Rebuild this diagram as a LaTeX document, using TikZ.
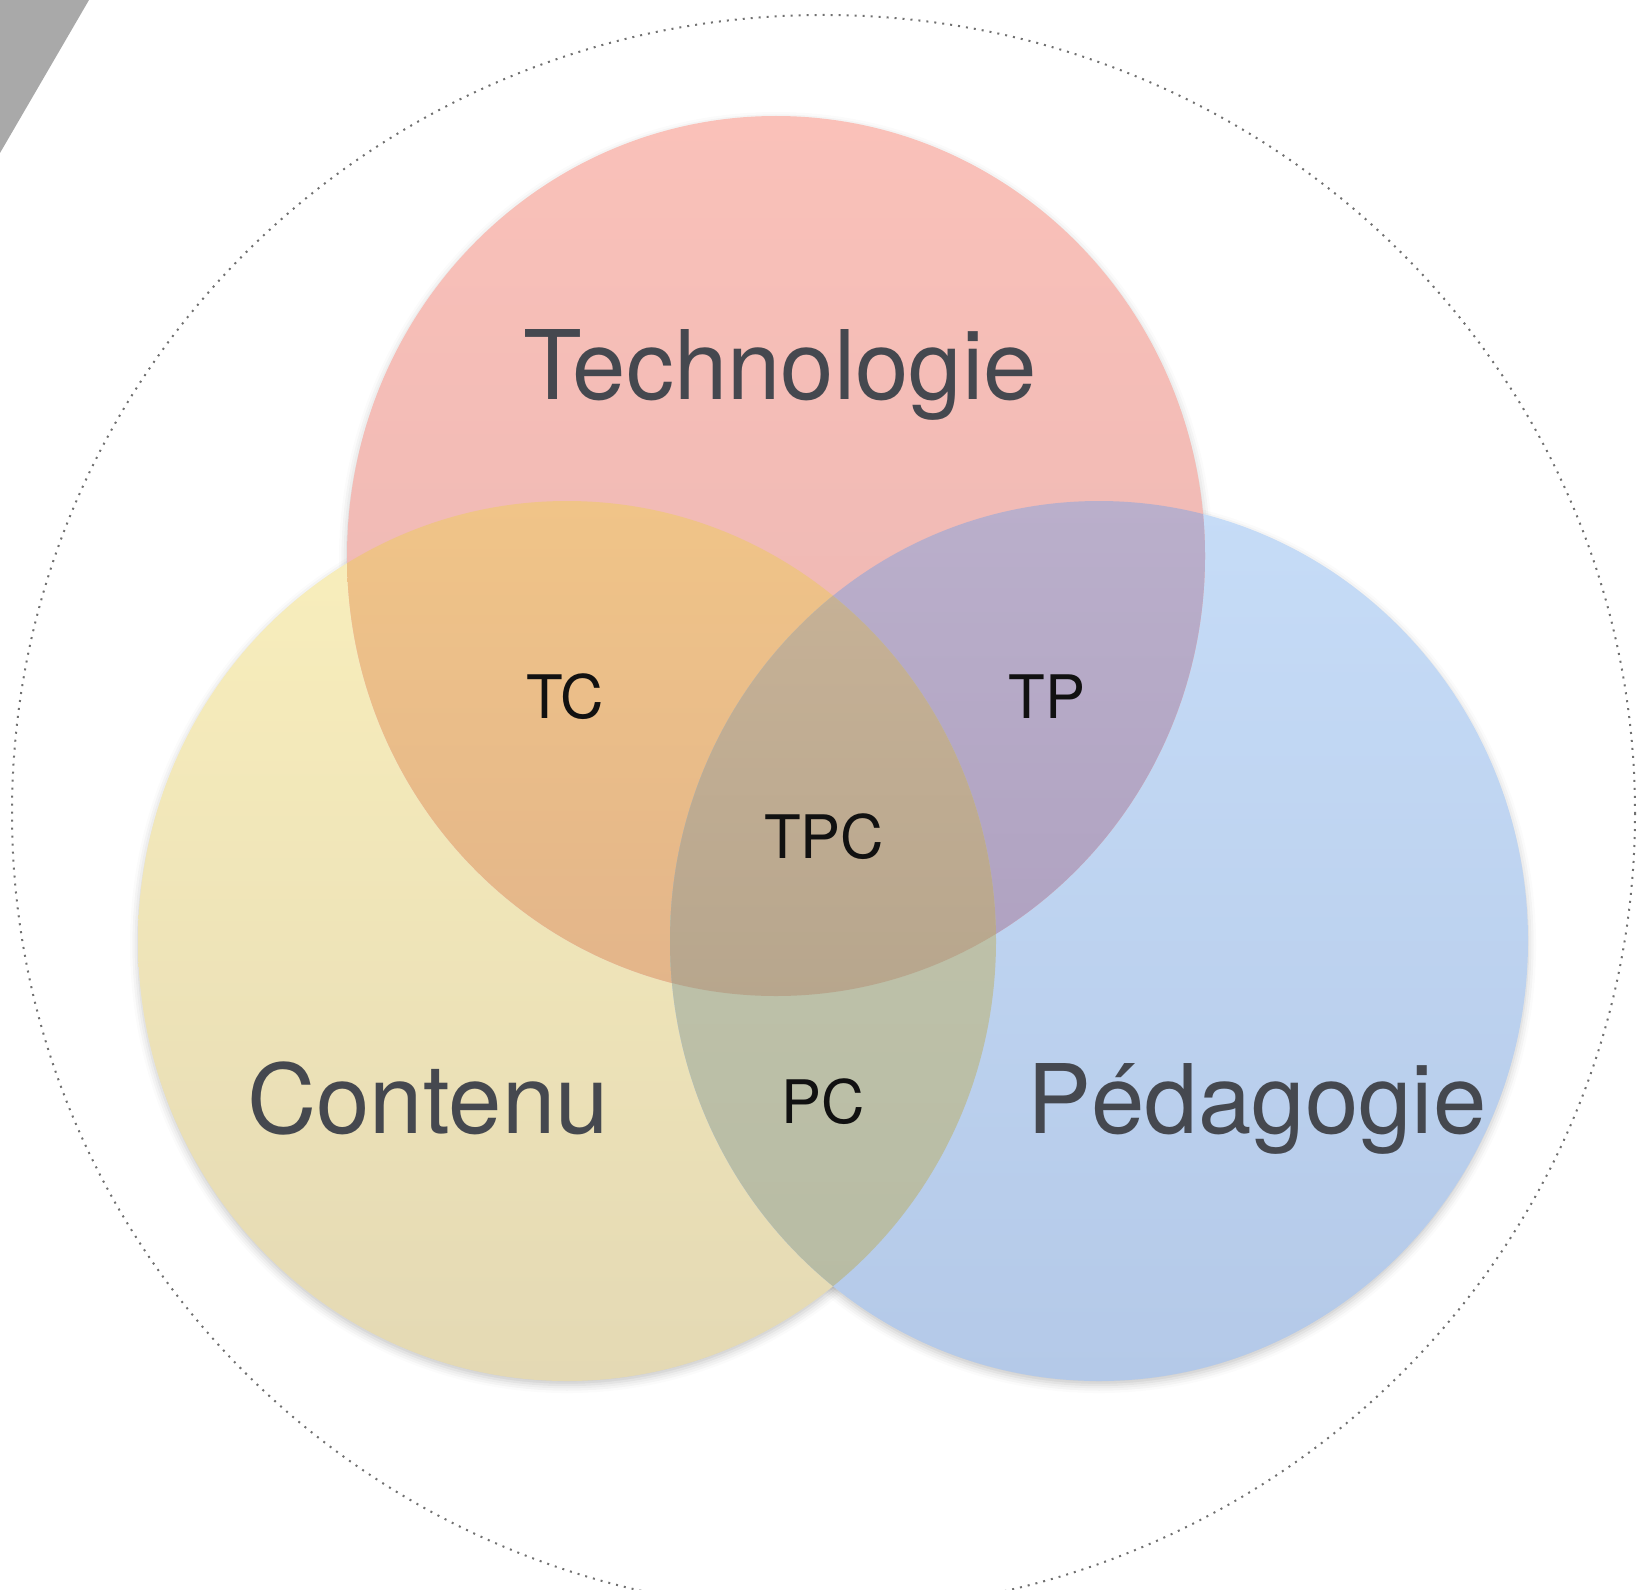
\documentclass[tikz,border=0pt]{standalone}
\usepackage{fontspec}
\setmainfont{TeX Gyre Heros}
\usetikzlibrary{shadows.blur}
\definecolor{redA}{HTML}{FAC1B9}
\definecolor{redB}{HTML}{E8B4B2}
\definecolor{yelA}{HTML}{F9EFBC}
\definecolor{yelB}{HTML}{E4D9B4}
\definecolor{bluA}{HTML}{C6DCF7}
\definecolor{bluB}{HTML}{B4C9E8}
\definecolor{tcA}{HTML}{F0C488}
\definecolor{tcB}{HTML}{E3B58A}
\definecolor{tpA}{HTML}{BAAFCB}
\definecolor{tpB}{HTML}{AFA1C0}
\definecolor{pcA}{HTML}{C2C5AD}
\definecolor{pcB}{HTML}{B8BCA4}
\definecolor{tpcA}{HTML}{C6B196}
\definecolor{tpcB}{HTML}{B7A68D}
\definecolor{bigtext}{HTML}{45484F}
\definecolor{smalltext}{HTML}{111111}
\definecolor{dotgray}{HTML}{707070}
\definecolor{cornergray}{HTML}{A9A9A9}
\begin{document}
\begin{tikzpicture}[x=0.5pt,y=-0.5pt,
  biglabel/.style={anchor=base,inner sep=0pt,text=bigtext,font=\fontsize{48}{56}\selectfont},
  smalllabel/.style={anchor=base,inner sep=0pt,text=smalltext,font=\fontsize{30}{36}\selectfont},
  softshadow/.style={blur shadow={shadow xshift=0pt,shadow yshift=-2pt,shadow blur radius=4pt,shadow opacity=22}},
  dottedring/.style={draw=dotgray,line width=1pt,dash pattern=on 1pt off 3pt}]
\useasboundingbox (0,0) rectangle (1641,1589);
\coordinate (T) at (776,556);
\coordinate (C) at (567,941);
\coordinate (P) at (1099,941);
\coordinate (O) at (823.5,813);
% corner triangle
\fill[cornergray] (0,0) -- (89,0) -- (0,153) -- cycle;
% outer dotted ring
\draw[dottedring] (O) ellipse [x radius=811.5, y radius=798];
% shadows
\path[softshadow] (C) ellipse [x radius=429, y radius=440];
\path[softshadow] (P) ellipse [x radius=429, y radius=440];
\path[softshadow] (T) ellipse [x radius=429, y radius=440];
% single circles
\shade[top color=yelA,bottom color=yelB] (C) ellipse [x radius=429, y radius=440];
\shade[top color=bluA,bottom color=bluB] (P) ellipse [x radius=429, y radius=440];
\shade[top color=redA,bottom color=redB] (T) ellipse [x radius=429, y radius=440];
% TC
\begin{scope}
  \clip (T) ellipse [x radius=429, y radius=440];
  \clip (C) ellipse [x radius=429, y radius=440];
  \shade[top color=tcA,bottom color=tcB] (0,500) rectangle (1641,990);
\end{scope}
% TP
\begin{scope}
  \clip (T) ellipse [x radius=429, y radius=440];
  \clip (P) ellipse [x radius=429, y radius=440];
  \shade[top color=tpA,bottom color=tpB] (0,500) rectangle (1641,990);
\end{scope}
% PC
\begin{scope}
  \clip (C) ellipse [x radius=429, y radius=440];
  \clip (P) ellipse [x radius=429, y radius=440];
  \shade[top color=pcA,bottom color=pcB] (0,590) rectangle (1641,1300);
\end{scope}
% TPC
\begin{scope}
  \clip (T) ellipse [x radius=429, y radius=440];
  \clip (C) ellipse [x radius=429, y radius=440];
  \clip (P) ellipse [x radius=429, y radius=440];
  \shade[top color=tpcA,bottom color=tpcB] (0,590) rectangle (1641,1000);
\end{scope}
% labels
\node[biglabel] (tech) at (780,399) {Technologie};
\node[biglabel] (cont) at (428,1133) {Contenu};
\node[biglabel] (peda) at (1257,1133) {Pédagogie};
\node[smalllabel] (tc) at (565,718) {TC};
\node[smalllabel] (tp) at (1047,718) {TP};
\node[smalllabel] (tpc) at (824,858) {TPC};
\node[smalllabel] (pc) at (823,1123) {PC};
\end{tikzpicture}
\end{document}
